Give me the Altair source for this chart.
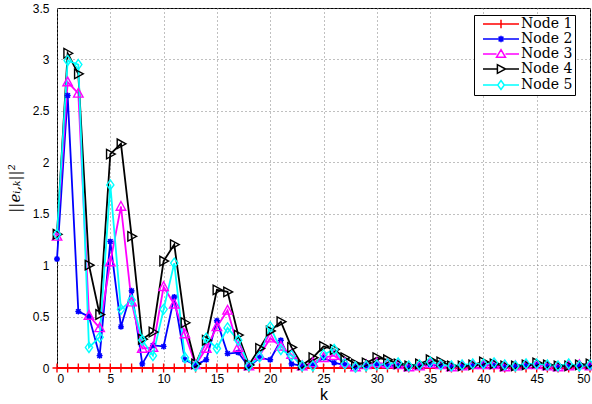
import altair as alt
import pandas as pd

k = list(range(51))
nodes = ["Node 1", "Node 2", "Node 3", "Node 4", "Node 5"]
colors = ["#ff0000", "#0000ff", "#ff00ff", "#000000", "#00ffff"]

node1 = [0.0, 0.0, 0.0, 0.0, 0.0, 0.0, 0.0, 0.0, 0.0, 0.0,
         0.0, 0.0, 0.0, 0.0, 0.0, 0.0, 0.0, 0.0, 0.0, 0.0,
         0.0, 0.0, 0.0, 0.0, 0.0, 0.0, 0.0, 0.0, 0.0, 0.0,
         0.0, 0.0, 0.0, 0.0, 0.0, 0.0, 0.0, 0.0, 0.0, 0.0,
         0.0, 0.0, 0.0, 0.0, 0.0, 0.0, 0.0, 0.0, 0.0, 0.0, 0.0]
node2 = [1.06, 2.65, 0.55, 0.50, 0.12, 1.23, 0.40, 0.75, 0.04, 0.22,
         0.21, 0.69, 0.08, 0.03, 0.08, 0.46, 0.14, 0.15, 0.01, 0.10,
         0.08, 0.27, 0.04, 0.02, 0.03, 0.10, 0.05, 0.03, 0.01, 0.02,
         0.03, 0.02, 0.02, 0.01, 0.02, 0.03, 0.02, 0.01, 0.02, 0.02,
         0.03, 0.02, 0.01, 0.02, 0.02, 0.03, 0.02, 0.01, 0.02, 0.02, 0.02]
node3 = [1.28, 2.78, 2.67, 0.51, 0.39, 1.03, 1.57, 0.64, 0.19, 0.20,
         0.79, 0.62, 0.33, 0.03, 0.19, 0.40, 0.56, 0.20, 0.02, 0.12,
         0.29, 0.21, 0.13, 0.02, 0.05, 0.10, 0.12, 0.05, 0.01, 0.03,
         0.05, 0.04, 0.03, 0.01, 0.02, 0.04, 0.03, 0.01, 0.02, 0.03,
         0.03, 0.03, 0.01, 0.02, 0.03, 0.03, 0.02, 0.01, 0.02, 0.03, 0.02]
node4 = [1.30, 3.06, 2.86, 1.00, 0.52, 2.08, 2.18, 1.28, 0.28, 0.35,
         1.04, 1.20, 0.44, 0.04, 0.27, 0.76, 0.74, 0.32, 0.03, 0.19,
         0.36, 0.45, 0.20, 0.03, 0.10, 0.21, 0.18, 0.10, 0.04, 0.05,
         0.10, 0.08, 0.04, 0.02, 0.04, 0.08, 0.06, 0.02, 0.02, 0.03,
         0.06, 0.04, 0.02, 0.02, 0.03, 0.05, 0.03, 0.02, 0.02, 0.03, 0.04]
node5 = [1.30, 2.99, 2.95, 0.20, 0.30, 1.78, 0.57, 0.66, 0.27, 0.12,
         0.57, 1.02, 0.10, 0.02, 0.29, 0.19, 0.39, 0.27, 0.02, 0.11,
         0.40, 0.18, 0.12, 0.02, 0.02, 0.13, 0.18, 0.04, 0.01, 0.02,
         0.03, 0.04, 0.05, 0.02, 0.03, 0.06, 0.03, 0.02, 0.03, 0.04,
         0.04, 0.05, 0.03, 0.02, 0.04, 0.04, 0.03, 0.02, 0.04, 0.02, 0.03]

series = [node1, node2, node3, node4, node5]

# marker outlines (unit square [-1,1])
marker_paths = [
    "M-0.9,0H0.9M0,-0.9V0.9",
    "M-0.6,0H0.6M0,-0.6V0.6M-0.45,-0.45L0.45,0.45M-0.45,0.45L0.45,-0.45"
    "M-0.3,-0.3H0.3V0.3H-0.3Z",
    "M0,-1L0.95,0.75L-0.95,0.75Z",
    "M1,0L-0.75,-0.95L-0.75,0.95Z",
    "M0,-1L0.72,0L0,1L-0.72,0Z",
]
# legend symbols: line segment plus marker (scale 6 px per unit)
legend_paths = [
    "M-3,0H3M-0.7,0H0.7M0,-0.7V0.7",
    "M-3,0H3M0,-0.55V0.55M-0.4,-0.4L0.4,0.4M-0.4,0.4L0.4,-0.4"
    "M-0.25,-0.25H0.25V0.25H-0.25Z",
    "M-3,0H-0.75M0.75,0H3M0,-0.72L0.75,0.55L-0.75,0.55Z",
    "M-3,0H-0.6M0.75,0H3M0.75,0L-0.6,-0.72L-0.6,0.72Z",
    "M-3,0H-0.55M0.55,0H3M0,-0.75L0.55,0L0,0.75L-0.55,0Z",
]

rows = []
for name, vals in zip(nodes, series):
    for kk, v in zip(k, vals):
        rows.append({"k": kk, "value": v, "node": name})
df = pd.DataFrame(rows)

x = alt.X("k:Q", scale=alt.Scale(domain=[0, 50], nice=False),
          axis=alt.Axis(title="k", values=list(range(0, 51, 5)), format="d"))
y = alt.Y("value:Q", scale=alt.Scale(domain=[0, 3.5], nice=False),
          axis=alt.Axis(title="||eᵢ,ₖ||²", values=[0, 0.5, 1, 1.5, 2, 2.5, 3, 3.5],
                        format=".2~f", titleFont="DejaVu Serif", titleFontStyle="italic",
                        titleFontSize=15, titleFontWeight="normal", titlePadding=10))

color_scale = alt.Scale(domain=nodes, range=colors)

base = alt.Chart(df)

lines = base.mark_line(strokeWidth=1.8).encode(
    x=x, y=y, color=alt.Color("node:N", scale=color_scale, legend=None)
)

points = base.mark_point(filled=False, size=100, strokeWidth=1.4, opacity=1).encode(
    x=x, y=y,
    color=alt.Color("node:N", scale=color_scale, legend=None),
    shape=alt.Shape("node:N", scale=alt.Scale(domain=nodes, range=marker_paths), legend=None),
)

leg = alt.Legend(
    title=None, orient="none", legendX=417, legendY=7,
    fillColor="white", strokeColor="black", padding=2,
    labelFont="DejaVu Serif", labelFontSize=14, labelColor="black",
    symbolSize=144, symbolStrokeWidth=1.5, symbolOffset=18, labelOffset=13,
    rowPadding=0, symbolOpacity=1, labelLimit=200,
)

legend_layer = base.transform_filter("false").mark_point(filled=False, strokeWidth=1.5).encode(
    x=x, y=y,
    stroke=alt.Stroke("node:N", scale=alt.Scale(domain=nodes, range=colors), legend=leg),
    shape=alt.Shape("node:N", scale=alt.Scale(domain=nodes, range=legend_paths), legend=leg),
)

chart = alt.layer(lines, points, legend_layer).resolve_scale(
    shape="independent", stroke="independent"
).properties(
    width=533, height=360,
    autosize=alt.AutoSizeParams(type="none"),
    padding={"left": 57, "top": 8, "right": 2, "bottom": 36},
).configure_view(
    stroke="black", strokeWidth=1
).configure_axis(
    grid=True, gridColor="#808080", gridDash=[1, 3], gridWidth=1, gridOpacity=1,
    domain=False, tickSize=0, labelFont="Liberation Sans", labelFontSize=12,
    labelColor="black", titleColor="black", titleFont="Liberation Sans",
    titleFontWeight="normal",
).configure_axisX(
    labelPadding=5, titleFontSize=16, titlePadding=2,
).configure_axisY(
    labelPadding=8,
).configure_legend(
    labelFont="DejaVu Serif", labelFontSize=14, labelColor="black",
)

chart.save("out.html", embed_options={"renderer": "svg", "actions": False})
